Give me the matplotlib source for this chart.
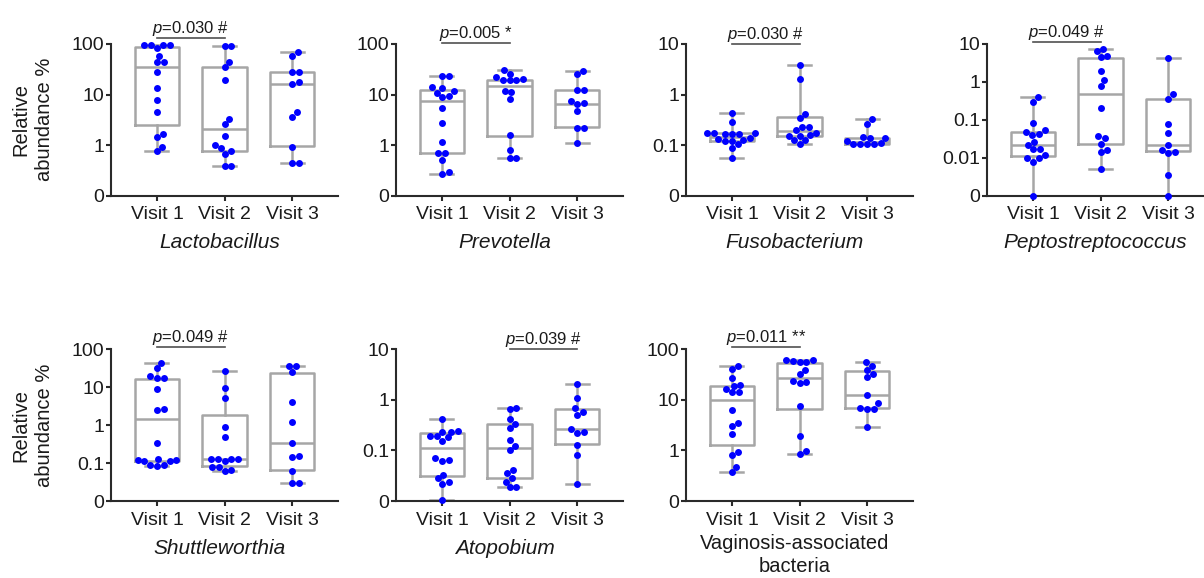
import numpy as np
import matplotlib
matplotlib.use('Agg')
import matplotlib.pyplot as plt

plt.rcParams['font.family'] = ['Liberation Sans', 'DejaVu Sans']
plt.rcParams['mathtext.fontset'] = 'custom'
plt.rcParams['mathtext.rm'] = 'Liberation Sans'
plt.rcParams['mathtext.it'] = 'Liberation Sans:italic'

visits = ['Visit 1', 'Visit 2', 'Visit 3']

# relative abundance (%) per visit; 0 = below detection
lacto = [
    [94, 94, 93.5, 93.5, 83, 59, 44.5, 44, 28.5, 13.5, 7.8, 4.5, 1.65, 1.47, 0.93, 0.76],
    [93, 92, 44.5, 35.5, 19.6, 3.24, 2.6, 1.5, 1.0, 0.87, 0.76, 0.66, 0.39, 0.38],
    [69, 57, 28.5, 28, 17.5, 16.2, 4.5, 3.65, 0.93, 0.45, 0.44],
]
prevotella = [
    [23.5, 23, 13.8, 13.2, 11.5, 10.8, 9.2, 8.8, 5.3, 2.7, 1.15, 0.71, 0.68, 0.51, 0.29, 0.27],
    [30, 26, 22.3, 20, 19.5, 19.3, 19, 11.5, 11.1, 8.2, 1.6, 0.79, 0.55, 0.55],
    [29.3, 25, 12.5, 12.2, 7.4, 6.7, 6.5, 4.7, 2.2, 2.15, 1.1],
]
fuso = [
    [0.43, 0.288, 0.172, 0.17, 0.17, 0.168, 0.168, 0.166, 0.137, 0.134, 0.123, 0.122, 0.12,
     0.103, 0.086, 0.055],
    [3.9, 2.0, 0.41, 0.35, 0.23, 0.226, 0.2, 0.175, 0.156, 0.154, 0.152, 0.126, 0.125, 0.103],
    [0.32, 0.26, 0.142, 0.139, 0.138, 0.12, 0.108, 0.107, 0.106, 0.105, 0.104],
]
pepto = [
    [0.40, 0.30, 0.083, 0.053, 0.047, 0.041, 0.039, 0.026, 0.022, 0.017, 0.0165, 0.012,
     0.0097, 0.0095, 0.0079, 0],
    [7.2, 6.4, 4.7, 4.5, 1.9, 1.15, 0.8, 0.2, 0.037, 0.032, 0.023, 0.016, 0.0145, 0.005],
    [4.2, 0.48, 0.36, 0.077, 0.046, 0.021, 0.016, 0.0138, 0.0135, 0.0035, 0],
]
shuttle = [
    [43, 31, 19.4, 17.5, 17, 9.0, 2.6, 2.5, 0.33, 0.125, 0.122, 0.12, 0.113, 0.112, 0.091,
     0.09, 0.083],
    [25.6, 9.4, 5.0, 0.87, 0.48, 0.127, 0.126, 0.125, 0.124, 0.113, 0.079, 0.078, 0.067, 0.061],
    [36, 35, 24.6, 4.0, 1.22, 0.33, 0.152, 0.145, 0.06, 0.03, 0.029],
]
atopo = [
    [0.41, 0.24, 0.235, 0.23, 0.19, 0.188, 0.18, 0.15, 0.069, 0.064, 0.063, 0.033, 0.028,
     0.024, 0.022, 0.0105],
    [0.67, 0.66, 0.41, 0.33, 0.28, 0.16, 0.122, 0.103, 0.041, 0.035, 0.028, 0.024, 0.0186, 0.0185],
    [2.0, 1.1, 0.67, 0.57, 0.5, 0.26, 0.225, 0.22, 0.13, 0.082, 0.0216],
]
vagin = [
    [47, 40, 26.5, 19.3, 19, 15.9, 14.1, 14, 6.2, 3.5, 3.0, 2.14, 0.93, 0.82, 0.47, 0.37],
    [61, 60, 57, 56.5, 56, 39, 32, 23, 22.5, 21, 7.4, 1.9, 0.95, 0.86],
    [56, 47, 38, 32.4, 27.8, 12.6, 8.5, 6.7, 6.6, 6.5, 2.9],
]

# boxes (q1, median, q3) per visit
lacto_box = [(2.46, 35.5, 86), (0.77, 2.1, 35.5), (0.96, 16.3, 27.4)]
prevotella_box = [(0.71, 7.3, 12.2), (1.5, 15, 19.8), (2.27, 6.5, 12.5)]
fuso_box = [(0.122, 0.142, 0.17), (0.15, 0.19, 0.36), (0.103, 0.113, 0.139)]
pepto_box = [(0.0113, 0.022, 0.048), (0.0224, 0.49, 4.3), (0.0147, 0.021, 0.35)]
shuttle_box = [(0.115, 1.4, 15.8), (0.085, 0.125, 1.82), (0.067, 0.34, 23.6)]
atopo_box = [(0.031, 0.111, 0.215), (0.028, 0.113, 0.33), (0.136, 0.267, 0.65)]
vagin_box = [(1.28, 10.0, 18.7), (6.4, 27, 54), (6.9, 12.4, 37)]

# name, italic, axis floor ("0"), axis top, p text, compared visits, bracket pad (px)
panels = [
    (lacto, lacto_box, 'Lactobacillus', True, 0.1, 100, '$p$=0.030 #', (0, 1), 6),
    (prevotella, prevotella_box, 'Prevotella', True, 0.1, 100, '$p$=0.005 *', (0, 1), 1),
    (fuso, fuso_box, 'Fusobacterium', True, 0.01, 10, '$p$=0.030 #', (0, 1), 0),
    (pepto, pepto_box, 'Peptostreptococcus', True, 0.001, 10, '$p$=0.049 #', (0, 1), 2),
    (shuttle, shuttle_box, 'Shuttleworthia', True, 0.01, 100, '$p$=0.049 #', (0, 1), 2),
    (atopo, atopo_box, 'Atopobium', True, 0.01, 10, '$p$=0.039 #', (1, 2), 0),
    (vagin, vagin_box, 'Vaginosis-associated\nbacteria', False, 0.1, 100, '$p$=0.011 **', (0, 1), 2),
]

W, H = 1204, 578
lefts = [111, 396, 686, 987]
rows = [(44, 195.5), (349, 501)]
ax_w = 227
px_unit = 67.5
dot_d = 6.9
gray = '#a6a6a6'
dark = '#2a2a2a'
txt = '#1a1a1a'


def swarm(ypx, d):
    order = np.argsort(ypx)
    placed = []
    xs = np.zeros(len(ypx))
    for i in order:
        y = ypx[i]
        cands = [0.0]
        for px, py in placed:
            dy = abs(py - y)
            if dy < d:
                dx = np.sqrt(d * d - dy * dy)
                cands += [px + dx, px - dx]
        cands.sort(key=abs)
        for c in cands:
            if all((c - px) ** 2 + (y - py) ** 2 >= d * d - 1e-6 for px, py in placed):
                break
        xs[i] = c
        placed.append((c, y))
    return xs


fig = plt.figure(figsize=(W / 100, H / 100), dpi=100)

for k, (vals, box, name, italic, lo, hi, ptxt, pair, pad) in enumerate(panels):
    r, c = divmod(k, 4)
    top, bot = rows[r]
    h = bot - top
    ax = fig.add_axes([lefts[c] / W, 1 - bot / H, ax_w / W, h / H])
    ax.set_yscale('log')
    ax.set_ylim(lo, hi)
    ax.set_xlim(-0.68, 2.68)
    ppd = h / np.log10(hi / lo)

    stats = []
    for i, v in enumerate(vals):
        v = np.array(v, float)
        vp = np.where(v > 0, v, lo)
        q1, med, q3 = box[i]
        stats.append(dict(med=med, q1=q1, q3=q3, whislo=vp.min(), whishi=vp.max(), fliers=[]))
        ypx = np.log10(vp / lo) * ppd
        xo = swarm(ypx, dot_d) / px_unit
        ax.scatter(i + xo, vp, s=25, color='#0000ff', linewidths=0, zorder=4, clip_on=False)
    lp = dict(color=gray, linewidth=1.8)
    ax.bxp(stats, positions=[0, 1, 2], widths=0.66, capwidths=0.34, showfliers=False,
           manage_ticks=False, boxprops=lp, whiskerprops=lp, capprops=lp, medianprops=lp)

    ticks = [lo * 10 ** j for j in range(int(round(np.log10(hi / lo))) + 1)]
    labels = ['0'] + ['%g' % t for t in ticks[1:]]
    ax.set_yticks(ticks, labels)
    ax.yaxis.set_minor_locator(matplotlib.ticker.NullLocator())
    ax.set_xticks([0, 1, 2], visits)

    for s in ['top', 'right']:
        ax.spines[s].set_visible(False)
    for s in ['left', 'bottom']:
        ax.spines[s].set_color(dark)
        ax.spines[s].set_linewidth(1.5)
    ax.tick_params(axis='both', length=3.6, width=1.5, color=dark, labelcolor=txt, labelsize=14)
    ax.tick_params(axis='y', pad=1.5)
    ax.tick_params(axis='x', pad=4)

    # significance bracket
    yb = 1 + pad / h
    tr = ax.get_xaxis_transform()
    ax.plot(list(pair), [yb, yb], transform=tr, color='#505050', lw=1.2, clip_on=False)
    ax.annotate(ptxt, xy=(sum(pair) / 2, yb), xycoords=tr, xytext=(0, 3.6),
                textcoords='offset points', ha='center', va='baseline', fontsize=12, color=txt)

    nl = name.count('\n')
    ax.annotate(name, xy=(1, 0), xycoords=tr, xytext=(-3.6, -(47 + 7 * nl) * 0.72),
                textcoords='offset points', ha='center', va='center',
                fontsize=15 if italic else 14.5,
                style='italic' if italic else 'normal', linespacing=1.3, color=txt)

    if c == 0:
        fig.text(33 / W, 1 - (top + bot) / 2 / H, 'Relative\nabundance %', rotation=90,
                 ha='center', va='center', fontsize=14.5, linespacing=1.3, color=txt)

fig.savefig('out.png', dpi=100)
